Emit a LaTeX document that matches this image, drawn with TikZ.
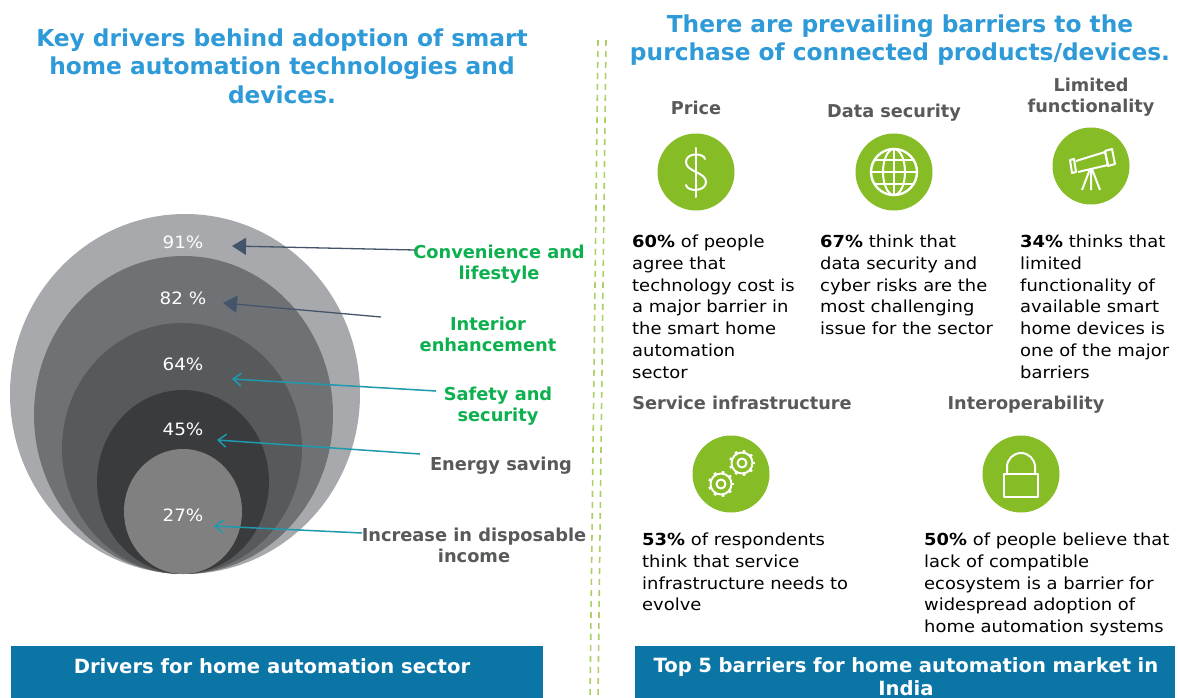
\documentclass[tikz,border=0pt]{standalone}
\usepackage{fontspec}
\setmainfont{DejaVu Sans}
\newfontfamily\bodyfam[FakeStretch=1.08]{DejaVu Sans}
\usetikzlibrary{arrows.meta}
\definecolor{ttl}{HTML}{2E9AD8}
\definecolor{bar}{HTML}{0B75A6}
\definecolor{lime}{HTML}{86BC25}
\definecolor{grn}{HTML}{0DB04F}
\definecolor{gry}{HTML}{58595B}
\definecolor{teal}{HTML}{1E9AAE}
\definecolor{navy}{HTML}{44546A}
\definecolor{e1}{HTML}{A7A9AC}
\definecolor{e2}{HTML}{6F7275}
\definecolor{e3}{HTML}{58595B}
\definecolor{e4}{HTML}{3A3B3D}
\definecolor{e5}{HTML}{808080}
\tikzset{
 x=1pt,y=-1pt,
 titletext/.style={font=\fontsize{23.3}{28.5}\selectfont\bfseries,text=ttl,align=center,inner sep=0},
 bartext/.style={font=\fontsize{19.6}{23.5}\selectfont\bfseries,text=white,align=center,inner sep=0},
 headtext/.style={font=\fontsize{17.7}{21}\selectfont\bfseries,text=gry,align=center,inner sep=0},
 drvgreen/.style={font=\fontsize{17.8}{21}\selectfont\bfseries,text=grn,align=center,inner sep=0},
 drvgray/.style={font=\fontsize{17.8}{21}\selectfont\bfseries,text=gry,align=center,inner sep=0},
 pct/.style={font=\bodyfam\fontsize{17}{20}\selectfont,text=white,inner sep=0},
 bodytext/.style={font=\bodyfam\fontsize{16.6}{21.7}\selectfont,text=black,align=left,anchor=north west,inner sep=0},
 iconcircle/.style={circle,fill=lime,inner sep=0,minimum size=77pt},
 ico/.style={draw=white,line width=2pt,line join=round},
 tealarrow/.style={draw=teal,line width=1.5pt,-{Straight Barb[length=8pt,width=13pt]}},
 navyarrow/.style={draw=navy,line width=1.3pt,-{Triangle[length=14pt,width=17pt]}},
 divider/.style={draw=lime!70,line width=1.6pt,dash pattern=on 6pt off 5pt},
}
\begin{document}
\begin{tikzpicture}
\useasboundingbox (0,0) rectangle (1178,698);
\fill[white] (0,0) rectangle (1178,698);
% titles
\node[titletext] (t1) at (282,66) {Key drivers behind adoption of smart\\home automation technologies and\\devices.};
\node[titletext] (t2) at (900,40) {There are prevailing barriers to the\\purchase of connected products/devices.};
% dividers
\draw[divider] (598,40) -- (590,698);
\draw[divider] (606,40) -- (598,698);
% ellipses
\fill[e1] (185,394) ellipse [x radius=175,y radius=180];
\fill[e2] (183.5,415) ellipse [x radius=149.5,y radius=159];
\fill[e3] (182,448.5) ellipse [x radius=120,y radius=125.5];
\fill[e4] (183,482) ellipse [x radius=86,y radius=92];
\fill[e5] (183,511.5) ellipse [x radius=59,y radius=62.5];
\node[pct] (p91) at (183,242) {91\%};
\node[pct] (p82) at (183,298) {82 \%};
\node[pct] (p64) at (183,364) {64\%};
\node[pct] (p45) at (183,429) {45\%};
\node[pct] (p27) at (183,515) {27\%};
% driver labels
\node[drvgreen] (d1) at (499,264.5) {Convenience and\\lifestyle};
\node[drvgreen] (d2) at (488,334) {Interior\\enhancement};
\node[drvgreen] (d3) at (498,406) {Safety and\\security};
\node[drvgray] (d4) at (501,466) {Energy saving};
\node[drvgray] (d5) at (474,545) {Increase in disposable\\income};
% arrows
\coordinate (a1s) at (415,250);\coordinate (a1e) at (232,246);
\coordinate (a2s) at (381,317);\coordinate (a2e) at (223,303);
\coordinate (a3s) at (436,391);\coordinate (a3e) at (232,379);
\coordinate (a4s) at (420,454);\coordinate (a4e) at (217,440);
\coordinate (a5s) at (362,533);\coordinate (a5e) at (214,526);
\draw[navyarrow] (a1s) -- (a1e);
\draw[navyarrow] (a2s) -- (a2e);
\draw[tealarrow] (a3s) -- (a3e);
\draw[tealarrow] (a4s) -- (a4e);
\draw[tealarrow] (a5s) -- (a5e);
% headings
\node[headtext] (h1) at (696,107.5) {Price};
\node[headtext] (h2) at (894,113) {Data security};
\node[headtext] (h3) at (1091,97) {Limited\\functionality};
\node[headtext] (h4) at (742,403) {Service infrastructure};
\node[headtext] (h5) at (1026,405) {Interoperability};
% icons
\node[iconcircle] (i1) at (696,172) {};
\node[iconcircle] (i2) at (894,172) {};
\node[iconcircle] (i3) at (1091,166) {};
\node[iconcircle] (i4) at (731,474) {};
\node[iconcircle] (i5) at (1021,474) {};
% dollar
\begin{scope}[shift={(i1.center)}]
\draw[ico,line cap=round] (9,-13) .. controls (8,-19) and (-10,-20) .. (-10,-10) .. controls (-10,0) and (10,0) .. (10,10) .. controls (10,20) and (-9,20) .. (-10,13);
\draw[ico,line cap=round] (0,-24) -- (0,25);
\end{scope}
% globe
\begin{scope}[shift={(i2.center)}]
\draw[ico,line width=2.4pt] (0,0) circle (23);
\draw[ico] (0,0) ellipse [x radius=11,y radius=23];
\draw[ico] (0,-23) -- (0,23) (-23,0) -- (23,0) (-19,-12) -- (19,-12) (-19,12) -- (19,12);
\end{scope}
% telescope
\begin{scope}[shift={(i3.center)}]
\draw[ico] (-21,-6) -- (-19,7) -- (-15,6) -- (-17,-7) -- cycle;
\draw[ico] (-15,-5) -- (14,-14) -- (17,-1) -- (-13,6);
\draw[ico] (14,-15) -- (21,-17) -- (24,-2) -- (17,0) -- cycle;
\draw[ico] (-1,3) -- (-9,24) (0,3) -- (0,24) (1,3) -- (9,24);
\end{scope}
% gears
\begin{scope}[shift={(i4.center)}]
\foreach \cx/\cy in {11/-11,-10/10}{
\draw[ico] (\cx,\cy) circle (4.5);
\draw[ico] (\cx,\cy) circle (10.5);
\foreach \a in {0,40,...,320}{
\draw[ico,line width=2.6pt] (\cx,\cy) ++(\a:10.5) -- ++(\a:2.5);
}}
\end{scope}
% lock
\begin{scope}[shift={(i5.center)}]
\draw[ico] (-17,0) rectangle (17,23);
\draw[ico] (-14,0) -- (-14,-7) arc[start angle=180,end angle=360,radius=14] -- (14,0);
\end{scope}
% body texts
\node[bodytext] (b1) at (632,235) {\textbf{60\%} of people\\agree that\\technology cost is\\a major barrier in\\the smart home\\automation\\sector};
\node[bodytext] (b2) at (820,235) {\textbf{67\%} think that\\data security and\\cyber risks are the\\most challenging\\issue for the sector};
\node[bodytext] (b3) at (1020,235) {\textbf{34\%} thinks that\\limited\\functionality of\\available smart\\home devices is\\one of the major\\barriers};
\node[bodytext] (b4) at (642,533) {\textbf{53\%} of respondents\\think that service\\infrastructure needs to\\evolve};
\node[bodytext] (b5) at (924,533) {\textbf{50\%} of people believe that\\lack of compatible\\ecosystem is a barrier for\\widespread adoption of\\home automation systems};
% bars
\fill[bar] (11,646) rectangle (543,698);
\fill[bar] (635,646) rectangle (1175,698);
\node[bartext] (l1) at (272,666) {Drivers for home automation sector};
\node[bartext,text width=530pt] (l2) at (906,676.5) {Top 5 barriers for home automation market in\\India};
\end{tikzpicture}
\end{document}
